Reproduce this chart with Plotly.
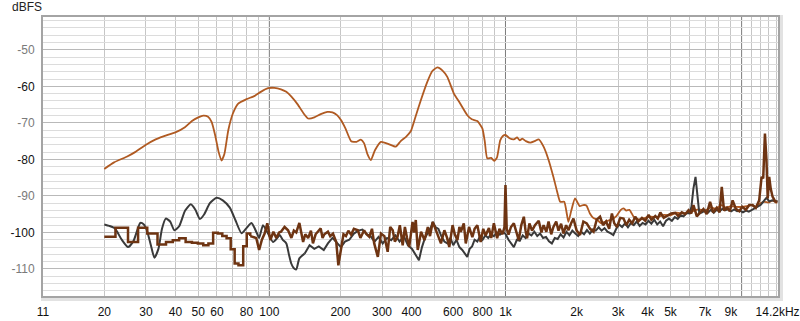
import math
import plotly.graph_objects as go

# ---------------- data ----------------
orange_f = [20, 22, 25, 27, 29.8, 33, 37.4, 40, 43.9, 47, 50, 52.5, 55, 57, 59, 61, 62.7, 64.5, 67, 70,
            73.8, 80, 86.7, 92, 98.7, 105, 112, 118, 124, 132, 140, 146, 155, 165, 176, 185, 193, 201, 210, 222,
            234, 244, 252, 260, 269, 280, 297, 320, 343, 360, 379, 397, 415, 438, 467, 490, 515, 540, 567, 604,
            640, 689, 720, 760, 798, 817, 837, 870, 895, 920, 950, 975, 1000, 1040, 1085, 1120, 1150, 1179, 1220, 1274,
            1330, 1383, 1450, 1520, 1596, 1650, 1705, 1773, 1820, 1847, 1900, 1970, 2063, 2130, 2200, 2278, 2353, 2440, 2550, 2650,
            2800, 2950, 3080, 3160, 3250, 3350, 3500, 3700, 3900, 4100, 4400, 4700, 5000, 5300, 5600, 6000, 6300, 6600, 7000, 7400,
            7800, 8200, 8600, 9000, 9500, 10000, 10500, 11000, 11500, 12000, 12500, 13000, 13500, 14100]
orange_db = [-82.6, -80.8, -79.2, -78.0, -76.1, -74.5, -73.2, -72.6, -71.2, -69.5, -68.5, -68.0, -68.3, -69.8, -73.5, -78.0, -80.3, -78.5, -72.0, -67.5,
             -64.7, -63.5, -62.6, -61.5, -60.5, -60.4, -60.8, -61.5, -62.8, -65.0, -67.5, -68.8, -68.5, -67.6, -67.0, -67.1, -67.8, -69.2, -71.5, -75.0,
             -75.2, -74.6, -75.6, -78.5, -80.2, -77.5, -75.2, -75.8, -76.5, -75.0, -73.8, -72.3, -68.5, -63.8, -58.7, -55.8, -54.8, -55.6, -57.4, -61.9,
             -64.5, -67.9, -69.0, -69.5, -71.5, -75.0, -79.7, -79.6, -80.4, -79.5, -74.8, -73.6, -73.3, -74.2, -74.5, -74.0, -74.8, -74.3, -75.0, -75.4,
             -75.0, -74.5, -76.5, -80.0, -84.8, -88.5, -91.6, -91.6, -95.0, -97.1, -94.0, -90.7, -92.8, -92.5, -92.6, -94.8, -96.0, -96.5, -97.5, -97.0,
             -96.5, -95.5, -93.8, -93.4, -94.0, -93.8, -95.8, -96.5, -96.0, -95.7, -95.8, -95.2, -95.3, -94.6, -94.8, -94.5, -94.0, -93.7, -94.0, -93.2,
             -93.5, -92.5, -93.2, -92.8, -93.0, -93.0, -92.8, -92.5, -93.0, -92.0, -91.6, -91.8, -91.3, -92.0]

# gray: smooth part at low frequencies
gray_low_f = [20, 21, 22.2, 23.6, 25.2, 26.6, 28.4, 29.4, 30.3, 31.5, 32.6, 33.9, 35.1, 36.4, 38, 39.6, 41.5, 44, 46.5, 48.6,
              50.8, 53, 56, 59.8, 63.5, 68, 72, 76.2, 80, 84, 88, 90.5, 94, 98.7, 103.7, 108, 110.5, 114, 118, 121,
              123.8, 127, 130, 134, 141]
gray_low_db = [-97.8, -98.2, -98.9, -101.8, -104.0, -102.3, -97.4, -97.8, -99.4, -103.5, -106.9, -104.5, -99.0, -96.2, -97.0, -99.4, -98.3, -94.0, -92.3, -93.8,
               -96.3, -95.0, -92.0, -90.5, -91.2, -93.2, -96.8, -100.2, -98.8, -97.4, -99.8, -101.5, -98.0, -100.3, -102.6, -101.5, -100.7, -102.0, -103.0, -106.0,
               -108.5, -109.8, -110.1, -107.1, -105.8]
# gray: noisy part
gray_f = [141, 148, 155, 162, 170, 177, 185, 192, 201, 209, 218, 228, 238, 248, 258, 268, 279, 290, 302, 315,
          328, 342, 356, 371, 386, 402, 418, 430, 443, 456, 470, 484, 492, 505, 520, 535, 551, 567, 584, 601,
          620, 638, 656, 672, 689, 705, 722, 740, 760, 780, 800, 822, 845, 868, 893, 920, 947, 975, 1003, 1030,
          1060, 1085, 1117, 1150, 1183, 1217, 1252, 1288, 1325, 1363, 1402, 1443, 1485, 1528, 1572, 1617, 1664, 1712, 1762, 1813,
          1865, 1919, 1975, 2032, 2091, 2151, 2213, 2277, 2343, 2411, 2481, 2553, 2627, 2703, 2781, 2862, 2945, 3030, 3118, 3208,
          3301, 3397, 3495, 3596, 3700, 3807, 3918, 4031, 4148, 4268, 4392, 4519, 4650, 4785, 4923, 5066, 5212, 5363, 5519, 5678,
          5843, 6012, 6130, 6250, 6380, 6500, 6620, 6800, 7000, 7200, 7410, 7620, 7840, 8070, 8300, 8540, 8790, 9040, 9300, 9570,
          9850, 10130, 10430, 10730, 11040, 11360, 11690, 12030, 12380, 12740, 13100, 13480, 13870, 14200]
gray_db = [-105.8, -103.5, -104.5, -103.8, -104.8, -103.0, -101.5, -102.5, -104.0, -102.5, -102.0, -100.3, -99.5, -99.2, -100.5, -101.0, -102.5, -101.2, -103.0, -101.5,
           -102.1, -100.8, -102.5, -101.0, -103.5, -104.5, -106.5, -107.6, -104.0, -101.5, -100.0, -98.5, -97.1, -98.5, -99.0, -101.0, -102.5, -103.0, -101.5, -103.5,
           -102.0, -104.0, -104.8, -105.8, -106.7, -104.5, -103.8, -102.0, -102.5, -101.0, -102.0, -100.8, -101.5, -100.5, -101.0, -100.0, -100.6, -99.8, -100.5, -102.0,
           -103.0, -104.0, -102.0, -102.3, -100.8, -101.5, -100.3, -100.8, -99.8, -101.0, -100.3, -101.5, -101.2, -102.4, -103.0, -101.5, -101.8, -100.5, -101.4, -99.8,
           -100.8, -99.5, -100.3, -101.0, -99.8, -100.5, -99.3, -100.3, -99.2, -99.5, -98.6, -99.5, -98.8, -99.8, -100.2, -100.7, -99.0, -97.8, -98.5, -97.5,
           -98.6, -97.4, -98.0, -97.0, -98.2, -97.4, -97.8, -96.8, -97.6, -96.5, -97.8, -97.0, -98.3, -96.8, -96.2, -96.8, -95.8, -96.3, -95.3, -95.6,
           -94.7, -94.8, -93.0, -88.0, -84.8, -90.0, -94.8, -94.5, -94.0, -94.6, -93.8, -94.6, -93.8, -94.2, -93.5, -93.9, -93.6, -94.2, -93.7, -94.2,
           -94.0, -94.5, -94.0, -94.3, -93.8, -93.5, -93.0, -92.5, -91.5, -90.5, -91.5, -91.2, -91.4, -91.5]

# dark brown: raw FFT bins at low frequencies (stepped), then dense noise
brown_low_f = [20.0, 22.3, 25.2, 27.8, 30.4, 33.6, 36.5, 39.0, 41.5, 44.2, 47.0, 49.8, 52.5, 55.2, 57.8, 60.5, 63.2, 65.9, 68.6, 71.3,
               74.0, 77.5, 80.2, 83.0]
brown_low_db = [-101.2, -98.7, -102.6, -98.7, -100.3, -103.3, -102.6, -102.1, -101.6, -102.6, -102.8, -103.0, -103.5, -103.0, -100.1, -100.3, -101.0, -101.6, -104.6, -108.5,
                -109.0, -103.8, -100.3, -101.0]

brown_f = [83, 85.5, 88, 90.5, 93, 95.5, 98, 101, 104, 107, 110, 112, 116, 120, 124, 127, 130, 134, 139, 142,
           146, 150, 153, 157, 160, 165, 168, 171, 177, 181, 186, 192, 196, 201, 206, 211, 216, 222, 228, 237,
           243, 252, 258, 265, 272, 278, 288, 297, 307, 317, 325, 333, 340, 349, 357, 367, 375, 383, 391, 404,
           410, 417, 425, 439, 454, 469, 479, 492, 508, 521, 533, 551, 566, 578, 597, 610, 626, 638, 647, 666,
           679, 701, 724, 740, 760, 785, 805, 824, 851, 870, 893, 922, 943, 972, 990, 1000, 1012, 1030, 1055, 1085,
           1111, 1138, 1167, 1196, 1216, 1234, 1263, 1296, 1333, 1383, 1420, 1450, 1490, 1522, 1562, 1596, 1640, 1677, 1720, 1760,
           1806, 1847, 1897, 1940, 2002, 2069, 2137, 2209, 2282, 2360, 2434, 2515, 2590, 2668, 2749, 2823, 2888, 2965, 3063, 3162,
           3249, 3341, 3440, 3544, 3650, 3784, 3909, 4037, 4148, 4311, 4417, 4527, 4680, 4843, 5034, 5233, 5385, 5581, 5769, 5960,
           6119, 6254, 6460, 6679, 6893, 7114, 7353, 7575, 7848, 8064, 8241, 8425, 8668, 8916, 9162, 9450, 9778, 10060, 10433, 10770,
           11130, 11480, 11870, 12150, 12345, 12553, 12740, 12900, 13088, 13280, 13520, 13870, 14186]
brown_db = [-101.0, -101.2, -101.5, -104.8, -102.0, -100.3, -97.5, -102.1, -99.8, -101.5, -100.0, -99.8, -98.5, -99.4, -101.5, -99.5, -100.0, -97.4, -102.6, -100.5,
            -101.5, -99.5, -103.0, -100.5, -99.8, -98.9, -101.5, -100.5, -99.8, -101.0, -100.3, -102.6, -109.0, -104.8, -100.5, -101.0, -99.5, -100.6, -99.0, -99.4,
            -101.5, -99.4, -100.5, -101.2, -99.0, -103.0, -106.7, -100.3, -101.0, -105.3, -98.5, -99.4, -102.5, -101.2, -98.0, -103.5, -98.5, -101.5, -104.0, -97.1,
            -100.0, -96.6, -104.8, -99.8, -102.1, -98.5, -101.0, -97.1, -99.4, -101.5, -103.0, -99.4, -101.5, -104.0, -98.0, -100.5, -102.1, -98.5, -99.8, -97.5,
            -103.0, -98.5, -101.3, -99.0, -98.0, -102.6, -99.0, -100.8, -98.8, -101.5, -97.5, -101.6, -99.0, -100.5, -98.5, -87.0, -99.0, -100.6, -98.5, -97.5,
            -100.0, -102.1, -98.0, -95.7, -99.5, -101.6, -97.5, -99.5, -98.0, -96.8, -100.0, -98.0, -99.8, -97.0, -100.5, -98.5, -97.0, -99.5, -97.6, -100.3,
            -98.0, -99.4, -97.5, -96.2, -99.5, -100.7, -97.0, -97.5, -99.0, -99.8, -96.5, -95.7, -98.0, -97.0, -99.0, -94.8, -97.5, -98.5, -96.0, -96.2,
            -98.0, -96.5, -97.5, -95.7, -97.0, -96.0, -96.8, -95.2, -96.5, -95.5, -96.2, -94.5, -96.0, -95.5, -94.8, -94.6, -95.5, -94.5, -95.0, -93.9,
            -94.8, -92.5, -95.6, -94.5, -93.6, -95.0, -91.6, -94.5, -93.2, -94.5, -87.5, -94.0, -93.2, -94.2, -91.2, -93.5, -94.2, -93.0, -93.8, -92.5,
            -92.5, -93.3, -91.2, -84.8, -85.2, -72.9, -80.0, -90.7, -84.8, -88.0, -90.2, -91.5, -91.6]

x_tick_vals = [11, 20, 30, 40, 50, 60, 80, 100, 200, 300, 400, 600, 800, 1000, 2000, 3000, 4000, 5000, 7000, 9000, 14200]
x_tick_text = ["11", "20", "30", "40", "50", "60", "80", "100", "200", "300", "400", "600", "800", "1k", "2k", "3k", "4k", "5k", "7k", "9k", "14.2kHz"]
x_grid_vals = [20, 30, 40, 50, 60, 70, 80, 90, 200, 300, 400, 500, 600, 700, 800, 900,
               2000, 3000, 4000, 5000, 6000, 7000, 8000, 9000, 11000, 12000, 13000, 14000]
x_decade_vals = [100, 1000, 10000]
y_tick_vals = [-110, -100, -90, -80, -70, -60, -50]
y_tick_text = ["-110", "-100", "-90", "-80", "-70", "-60", "-50"]
y_tick_dark = [False, True, False, True, False, True, False]

ORANGE = "#b05a22"
GRAY = "#3a3a3a"
BROWN = "#6e3412"

# ---------------- figure ----------------
fig = go.Figure()
fig.add_trace(go.Scatter(x=orange_f, y=orange_db, mode="lines",
                         line=dict(color=ORANGE, width=1.8, shape="spline", smoothing=0.5),
                         showlegend=False, hoverinfo="skip"))
fig.add_trace(go.Scatter(x=gray_low_f, y=gray_low_db, mode="lines",
                         line=dict(color=GRAY, width=2.0, shape="spline", smoothing=0.6),
                         showlegend=False, hoverinfo="skip"))
fig.add_trace(go.Scatter(x=gray_f, y=gray_db, mode="lines",
                         line=dict(color=GRAY, width=2.0),
                         showlegend=False, hoverinfo="skip"))
fig.add_trace(go.Scatter(x=brown_low_f, y=brown_low_db, mode="lines",
                         line=dict(color=BROWN, width=2.5, shape="hv"),
                         showlegend=False, hoverinfo="skip"))
fig.add_trace(go.Scatter(x=brown_f, y=brown_db, mode="lines",
                         line=dict(color=BROWN, width=2.5),
                         showlegend=False, hoverinfo="skip"))

y_labels = [f'<span style="color:{"#111111" if d else "#7a7a7a"}">{t}</span>'
            for t, d in zip(y_tick_text, y_tick_dark)]

W, H = 800, 321
ml, mr, mt, mb = 43, 22, 17, 25
pw, ph = W - ml - mr, H - mt - mb

shapes = [
    # soft shadow around plot frame
    dict(type="rect", xref="paper", yref="paper", layer="below",
         x0=-2 / pw, x1=1 + 5 / pw, y0=-5 / ph, y1=1 + 2 / ph,
         fillcolor="#e2e2e2", line=dict(width=0)),
    dict(type="rect", xref="paper", yref="paper", layer="below",
         x0=0, x1=1, y0=0, y1=1, fillcolor="white", line=dict(width=0)),
]
for v in x_decade_vals:
    shapes.append(dict(type="line", xref="x", yref="paper", layer="between",
                       x0=v, x1=v, y0=0, y1=1, line=dict(color="#7c7c7c", width=1)))

fig.update_layout(
    width=W, height=H,
    margin=dict(l=ml, r=mr, t=mt, b=mb, autoexpand=False),
    paper_bgcolor="white", plot_bgcolor="white",
    font=dict(family="Liberation Sans, Arial, sans-serif", size=12, color="#111111"),
    shapes=shapes,
    annotations=[dict(text="dBFS", xref="paper", yref="paper",
                      x=(10 - ml) / pw, y=1 + (mt - 7.5) / ph, xanchor="left", yanchor="middle",
                      showarrow=False, font=dict(size=12, color="#222222"))],
    xaxis=dict(type="log", range=[math.log10(11), math.log10(14260)], automargin=False,
               tickmode="array", tickvals=x_tick_vals, ticktext=x_tick_text,
               showgrid=False, ticks="", ticklabelstandoff=4,
               tickfont=dict(size=12, color="#111111"),
               showline=True, linecolor="#a4a4a4", linewidth=2, mirror=True, zeroline=False,
               minor=dict(tickmode="array", tickvals=x_grid_vals, showgrid=True,
                          gridcolor="#c6c6c6", gridwidth=1, ticks="")),
    yaxis=dict(range=[-117.4, -41], tickmode="array", tickvals=y_tick_vals, ticktext=y_labels,
               automargin=False, showgrid=True, gridcolor="#b9b9b9", gridwidth=1, ticks="",
               ticklabelstandoff=4, tickfont=dict(size=12),
               showline=True, linecolor="#a4a4a4", linewidth=2, mirror=True, zeroline=False,
               minor=dict(dtick=2, tick0=0, showgrid=True, gridcolor="#dcdcdc", gridwidth=1, ticks="")),
)

fig.write_html("out.html", config={"displayModeBar": False},
               post_script="document.body.style.margin='0';document.body.style.overflow='hidden';")
